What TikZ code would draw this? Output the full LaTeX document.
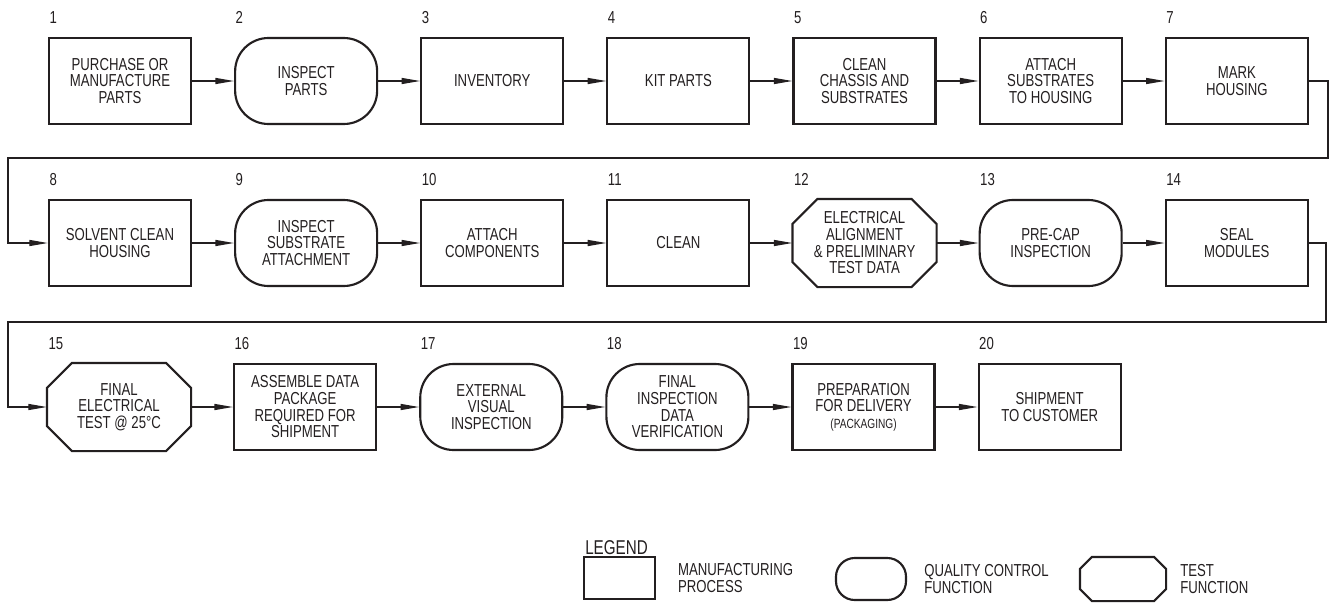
\documentclass[tikz,border=0pt]{standalone}
\usepackage{fontspec}
\setmainfont[FakeStretch=0.76]{Liberation Sans}
\usepackage{xcolor}
\usepackage{tikz}
\usetikzlibrary{positioning,arrows.meta}
\definecolor{ink}{HTML}{231F20}

\begin{document}
\begin{tikzpicture}[
  x=0.75pt, y=-0.75pt,
  node distance=10pt and 31.5pt,
  proc/.style={draw=ink, line width=1.6pt, minimum width=106.5pt, minimum height=64.5pt, align=center, inner sep=2pt, text=ink, font=\fontsize{13}{12.5}\selectfont},
  qc/.style={proc, rounded corners=25pt},
  test/.style={proc, draw=none, append after command={\pgfextra{
    \draw[draw=ink, line width=1.6pt, line join=miter]
      ([xshift=#1]\tikzlastnode.north west) -- ([xshift=-#1]\tikzlastnode.north east)
      -- ([yshift=-#1]\tikzlastnode.north east) -- ([yshift=#1]\tikzlastnode.south east)
      -- ([xshift=-#1]\tikzlastnode.south east) -- ([xshift=#1]\tikzlastnode.south west)
      -- ([yshift=#1]\tikzlastnode.south west) -- ([yshift=-#1]\tikzlastnode.north west) -- cycle;}}},
  test/.default=18.75pt,
  arrow/.style={-{Triangle[length=14pt, width=4.5pt]}, draw=ink, line width=1pt},
  num/.style={inner sep=0pt, text=ink, font=\fontsize{13}{13}\selectfont},
  legtxt/.style={inner sep=0pt, align=left, text=ink, font=\fontsize{13}{12.5}\selectfont}
]
\useasboundingbox (0,0) rectangle (1331,603);

% row 1
\node[proc] (purchase) at (120,81) {PURCHASE OR\\MANUFACTURE\\PARTS};
\node[qc, right=of purchase] (inspparts) {INSPECT\\PARTS};
\node[proc, right=of inspparts] (inventory) {INVENTORY};
\node[proc, right=of inventory] (kit) {KIT PARTS};
\node[proc, right=of kit] (chassis) {CLEAN\\CHASSIS AND\\SUBSTRATES};
\node[proc, right=of chassis] (attsub) {ATTACH\\SUBSTRATES\\TO HOUSING};
\node[proc, right=of attsub] (mark) {MARK\\HOUSING};

% row 2
\node[proc] (solvent) at (120,243) {SOLVENT CLEAN\\HOUSING};
\node[qc, right=of solvent] (inspsub) {INSPECT\\SUBSTRATE\\ATTACHMENT};
\node[proc, right=of inspsub] (attcomp) {ATTACH\\COMPONENTS};
\node[proc, right=of attcomp] (clean) {CLEAN};
\node[test, right=of clean] (align) {ELECTRICAL\\ALIGNMENT\\\& PRELIMINARY\\TEST DATA};
\node[qc, right=of align] (precap) {PRE-CAP\\INSPECTION};
\node[proc, right=of precap] (seal) {SEAL\\MODULES};

% row 3
\node[test] (finaltest) at (119,407) {FINAL\\ELECTRICAL\\TEST @ 25°C};
\node[proc, right=of finaltest] (assemble) {ASSEMBLE DATA\\PACKAGE\\REQUIRED FOR\\SHIPMENT};
\node[qc, right=of assemble] (external) {EXTERNAL\\VISUAL\\INSPECTION};
\node[qc, right=of external] (verify) {FINAL\\INSPECTION\\DATA\\VERIFICATION};
\node[proc, right=of verify] (prep) {PREPARATION\\FOR DELIVERY\\{\fontsize{10}{10}\selectfont (PACKAGING)}};
\node[proc, right=of prep] (ship) {SHIPMENT\\TO CUSTOMER};

% step numbers
\node[num, above right=10pt and 1pt of purchase.north west] (n1) {1};
\node[num, above right=10pt and 1pt of inspparts.north west] (n2) {2};
\node[num, above right=10pt and 1pt of inventory.north west] (n3) {3};
\node[num, above right=10pt and 1pt of kit.north west] (n4) {4};
\node[num, above right=10pt and 1pt of chassis.north west] (n5) {5};
\node[num, above right=10pt and 1pt of attsub.north west] (n6) {6};
\node[num, above right=10pt and 1pt of mark.north west] (n7) {7};
\node[num, above right=10pt and 1pt of solvent.north west] (n8) {8};
\node[num, above right=10pt and 1pt of inspsub.north west] (n9) {9};
\node[num, above right=10pt and 1pt of attcomp.north west] (n10) {10};
\node[num, above right=10pt and 1pt of clean.north west] (n11) {11};
\node[num, above right=10pt and 1pt of align.north west] (n12) {12};
\node[num, above right=10pt and 1pt of precap.north west] (n13) {13};
\node[num, above right=10pt and 1pt of seal.north west] (n14) {14};
\node[num, above right=10pt and 1pt of finaltest.north west] (n15) {15};
\node[num, above right=10pt and 1pt of assemble.north west] (n16) {16};
\node[num, above right=10pt and 1pt of external.north west] (n17) {17};
\node[num, above right=10pt and 1pt of verify.north west] (n18) {18};
\node[num, above right=10pt and 1pt of prep.north west] (n19) {19};
\node[num, above right=10pt and 1pt of ship.north west] (n20) {20};

% flow
\draw[arrow] (purchase) -- (inspparts);
\draw[arrow] (inspparts) -- (inventory);
\draw[arrow] (inventory) -- (kit);
\draw[arrow] (kit) -- (chassis);
\draw[arrow] (chassis) -- (attsub);
\draw[arrow] (attsub) -- (mark);

\draw[arrow] (solvent) -- (inspsub);
\draw[arrow] (inspsub) -- (attcomp);
\draw[arrow] (attcomp) -- (clean);
\draw[arrow] (clean) -- (align);
\draw[arrow] (align) -- (precap);
\draw[arrow] (precap) -- (seal);

\draw[arrow] (finaltest) -- (assemble);
\draw[arrow] (assemble) -- (external);
\draw[arrow] (external) -- (verify);
\draw[arrow] (verify) -- (prep);
\draw[arrow] (prep) -- (ship);

% row returns
\coordinate (r1) at (1328,158);
\coordinate (l1) at (8,158);
\coordinate (r2) at (1326,322);
\coordinate (l2) at (8,322);
\draw[arrow] (mark.east) -| (r1) -- (l1) |- (solvent.west);
\draw[arrow] (seal.east) -| (r2) -- (l2) |- (finaltest.west);

% legend
\node[anchor=west, inner sep=0pt, text=ink, font=\fontsize{15}{15}\selectfont] (legend) at (585,548) {LEGEND};
\node[proc, minimum width=53pt, minimum height=31.5pt] (lgproc) at (619.5,578) {};
\node[legtxt, right=16.5pt of lgproc] (lgproctxt) {MANUFACTURING\\PROCESS};
\node[qc, minimum width=52.5pt, minimum height=31.5pt, rounded corners=14pt] (lgqc) at (871,579) {};
\node[legtxt, right=12.75pt of lgqc] (lgqctxt) {QUALITY CONTROL\\FUNCTION};
\node[test=9pt, minimum width=63pt, minimum height=31.5pt] (lgtest) at (1123,579) {};
\node[legtxt, right=10.5pt of lgtest] (lgtesttxt) {TEST\\FUNCTION};

\end{tikzpicture}
\end{document}
